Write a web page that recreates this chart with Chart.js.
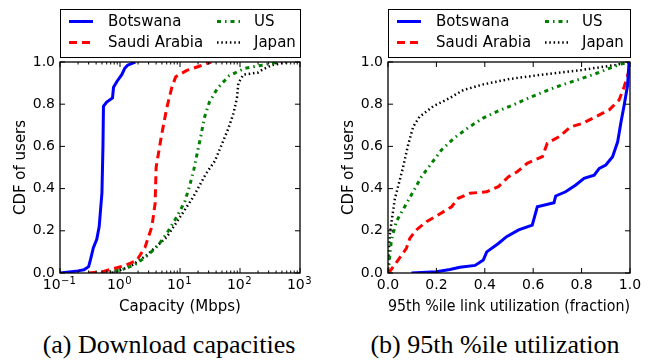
<!DOCTYPE html>
<html>
<head>
<meta charset="utf-8">
<script src="https://cdn.jsdelivr.net/npm/chart.js@4.4.0/dist/chart.umd.min.js"></script>
<style>
  body { margin: 0; background: #fff; }
  #wrap { position: relative; width: 655px; height: 360px; overflow: hidden; }
  canvas { position: absolute; top: 0; }
  .cap { position: absolute; top: 330px; font-family: "Liberation Serif", serif; font-size: 26px; color: #000; white-space: nowrap; transform: translateX(-50%); }
</style>
</head>
<body>
<div id="wrap">
  <canvas id="capChart" width="327" height="320" style="left:0"></canvas>
  <canvas id="utilChart" width="328" height="320" style="left:327px"></canvas>
  <div class="cap" style="left:169px">(a) Download capacities</div>
  <div class="cap" style="left:495px">(b) 95th %ile utilization</div>
</div>
<script>
// series names and styles
const countries = ['Botswana', 'Saudi Arabia', 'US', 'Japan'];
const colors = ['#0000ff', '#ff0000', '#008000', '#000000'];

// (a) download capacity (Mbps) vs CDF
const botswanaCap = [0.1, 0.2, 0.25, 0.3, 0.32, 0.36, 0.41, 0.45, 0.5, 0.52, 0.53, 0.6, 0.75, 0.78, 0.9, 1.07, 1.2, 1.34, 1.8];
const botswanaCapCdf = [0, 0.01, 0.015, 0.03, 0.06, 0.12, 0.16, 0.22, 0.38, 0.6, 0.79, 0.81, 0.83, 0.88, 0.91, 0.94, 0.97, 0.985, 1.0];
const saudiCap = [0.3, 0.5, 0.76, 1.2, 1.9, 2.6, 3.4, 3.85, 4.0, 4.9, 6.0, 7.3, 8.5, 13, 21, 33];
const saudiCapCdf = [0, 0.005, 0.02, 0.035, 0.06, 0.12, 0.22, 0.33, 0.5, 0.65, 0.78, 0.88, 0.93, 0.96, 0.98, 1.0];
const usCap = [0.49, 1.07, 1.78, 2.8, 4.3, 6.4, 9, 12.1, 14.7, 17, 19.6, 22.5, 25.4, 30.9, 42, 66, 120, 235, 430];
const usCapCdf = [0, 0.015, 0.04, 0.08, 0.13, 0.2, 0.27, 0.34, 0.42, 0.49, 0.575, 0.655, 0.735, 0.81, 0.875, 0.935, 0.97, 0.985, 1.0];
const japanCap = [0.73, 1.47, 2.8, 6, 10, 16.6, 27, 38, 49, 64, 78, 89, 94, 114, 200, 240, 340, 630];
const japanCapCdf = [0, 0.03, 0.085, 0.17, 0.265, 0.36, 0.47, 0.53, 0.605, 0.685, 0.757, 0.83, 0.9, 0.94, 0.95, 0.965, 0.985, 1.0];

// (b) 95th percentile link utilization vs CDF
const botswanaUtil = [0.097, 0.2, 0.256, 0.297, 0.36, 0.394, 0.408, 0.456, 0.49, 0.54, 0.596, 0.617, 0.686, 0.693, 0.734, 0.776, 0.81, 0.852, 0.873, 0.9, 0.928, 0.949, 0.963, 0.976, 0.99, 0.996];
const botswanaUtilCdf = [0, 0.006, 0.017, 0.027, 0.036, 0.062, 0.1, 0.14, 0.172, 0.204, 0.227, 0.314, 0.333, 0.365, 0.385, 0.417, 0.449, 0.464, 0.496, 0.512, 0.551, 0.622, 0.717, 0.796, 0.89, 1.0];
const saudiUtil = [0, 0.007, 0.041, 0.076, 0.09, 0.117, 0.159, 0.207, 0.263, 0.29, 0.339, 0.408, 0.456, 0.498, 0.534, 0.575, 0.638, 0.658, 0.707, 0.755, 0.804, 0.859, 0.914, 0.955, 0.976, 0.997, 1.0];
const saudiUtilCdf = [0, 0.006, 0.06, 0.117, 0.164, 0.204, 0.243, 0.275, 0.314, 0.354, 0.378, 0.385, 0.409, 0.456, 0.48, 0.52, 0.551, 0.615, 0.646, 0.693, 0.709, 0.741, 0.773, 0.82, 0.883, 0.962, 1.0];
const usUtil = [0, 0.002, 0.007, 0.014, 0.034, 0.069, 0.104, 0.138, 0.18, 0.221, 0.274, 0.332, 0.391, 0.456, 0.516, 0.582, 0.651, 0.718, 0.783, 0.852, 0.914, 0.963, 1.0];
const usUtilCdf = [0, 0.015, 0.08, 0.156, 0.243, 0.314, 0.385, 0.456, 0.52, 0.583, 0.64, 0.689, 0.733, 0.768, 0.796, 0.83, 0.862, 0.891, 0.915, 0.942, 0.97, 0.99, 1.0];
const japanUtil = [0, 0.002, 0.008, 0.028, 0.062, 0.083, 0.104, 0.13, 0.187, 0.256, 0.311, 0.394, 0.505, 0.624, 0.8, 0.94, 1.0];
const japanUtilCdf = [0, 0.08, 0.19, 0.35, 0.5, 0.607, 0.693, 0.74, 0.79, 0.83, 0.867, 0.894, 0.92, 0.938, 0.962, 0.986, 1.0];

// tick labels
const capTickValues = [0.1, 1, 10, 100, 1000];
const capTickExponents = ['−1', '0', '1', '2', '3'];
const cdfTicks = [0, 0.2, 0.4, 0.6, 0.8, 1.0];

Chart.defaults.font.family = 'DejaVu Sans';
Chart.defaults.color = '#000';

const dashes = [[], [8, 5], [4, 4, 1.5, 4], [1.5, 2.8]];
const widths = [3, 3, 3, 2.5];

function toPoints(xs, ys) {
  return xs.map((x, i) => ({ x: x, y: ys[i] }));
}

function makeDatasets(series) {
  return series.map((s, i) => ({
    label: countries[i],
    data: toPoints(s[0], s[1]),
    borderColor: colors[i],
    borderWidth: widths[i],
    borderDash: dashes[i],
    borderCapStyle: 'butt',
    pointRadius: 0,
    tension: 0,
    fill: false
  }));
}

// frame, inward ticks (matplotlib style), 10^n labels and the two-column legend
const framePlugin = {
  id: 'frame',
  afterDraw(chart) {
    const ctx = chart.ctx;
    const a = chart.chartArea;
    const xs = chart.scales.x, ys = chart.scales.y;
    ctx.save();
    ctx.strokeStyle = '#000';
    ctx.lineWidth = 1;
    ctx.beginPath();
    const tick = (px, len, horiz) => {
      if (horiz) {
        ctx.moveTo(px, a.bottom); ctx.lineTo(px, a.bottom - len);
        ctx.moveTo(px, a.top); ctx.lineTo(px, a.top + len);
      } else {
        ctx.moveTo(a.left, px); ctx.lineTo(a.left + len, px);
        ctx.moveTo(a.right, px); ctx.lineTo(a.right - len, px);
      }
    };
    xs.ticks.forEach(t => tick(xs.getPixelForValue(t.value), 5, true));
    ys.ticks.forEach(t => tick(ys.getPixelForValue(t.value), 5, false));
    if (xs.type === 'logarithmic') {
      for (let d = -1; d < 3; d++) {
        for (let m = 2; m < 10; m++) {
          tick(xs.getPixelForValue(m * Math.pow(10, d)), 2.5, true);
        }
      }
    }
    ctx.stroke();
    ctx.lineWidth = 1.3;
    ctx.strokeRect(a.left, a.top, a.right - a.left, a.bottom - a.top);

    // power-of-ten labels with real superscripts
    ctx.fillStyle = '#000';
    if (xs.type === 'logarithmic') {
      ctx.textBaseline = 'alphabetic';
      ctx.textAlign = 'left';
      capTickValues.forEach((v, i) => {
        const px = xs.getPixelForValue(v);
        ctx.font = '14px "DejaVu Sans"';
        const wb = ctx.measureText('10').width;
        ctx.font = '10px "DejaVu Sans"';
        const we = ctx.measureText(capTickExponents[i]).width;
        const x0 = px - (wb + we) / 2 - 1;
        ctx.font = '14px "DejaVu Sans"';
        ctx.fillText('10', x0, a.bottom + 16);
        ctx.font = '10px "DejaVu Sans"';
        ctx.fillText(capTickExponents[i], x0 + wb + 0.5, a.bottom + 10.5);
      });
    }

    // legend
    const top = 9, bottom = 57;
    ctx.lineWidth = 1;
    ctx.strokeRect(a.left + 0.5, top + 0.5, a.right - a.left, bottom - top);
    ctx.font = '15px "DejaVu Sans"';
    ctx.textBaseline = 'middle';
    ctx.textAlign = 'left';
    chart.data.datasets.forEach((ds, i) => {
      const col = Math.floor(i / 2), row = i % 2;
      const y = row === 0 ? 21.5 : 42.5;
      const x0 = a.left + (col === 0 ? 9 : 157);
      ctx.save();
      ctx.strokeStyle = ds.borderColor;
      ctx.lineWidth = ds.borderWidth;
      ctx.setLineDash(ds.borderDash);
      ctx.beginPath();
      ctx.moveTo(x0, y); ctx.lineTo(x0 + 24, y);
      ctx.stroke();
      ctx.restore();
      ctx.fillText(ds.label, x0 + (col === 0 ? 39 : 37), y + 1);
    });
    ctx.restore();
  }
};

function yScale() {
  return {
    min: 0, max: 1,
    afterFit: s => { s.width = 60; },
    afterBuildTicks: s => { s.ticks = cdfTicks.map(v => ({ value: v })); },
    ticks: { padding: 5, font: { size: 14 }, callback: v => v.toFixed(1) },
    grid: { display: false, drawTicks: false },
    border: { display: false },
    title: { display: true, text: 'CDF of users', font: { size: 15 }, padding: { top: 12, bottom: 0 } }
  };
}

const common = {
  responsive: false,
  animation: false,
  plugins: { legend: { display: false }, tooltip: { enabled: false } }
};

new Chart(document.getElementById('capChart'), {
  type: 'line',
  data: {
    datasets: makeDatasets([
      [botswanaCap, botswanaCapCdf], [saudiCap, saudiCapCdf],
      [usCap, usCapCdf], [japanCap, japanCapCdf]
    ])
  },
  options: Object.assign({}, common, {
    layout: { padding: { left: 0, right: 27, top: 62, bottom: 0 } },
    scales: {
      x: {
        type: 'logarithmic', min: 0.1, max: 1000,
        afterFit: s => { s.height = 47; },
        afterBuildTicks: s => { s.ticks = capTickValues.map(v => ({ value: v })); },
        ticks: { display: false },
        grid: { display: false, drawTicks: false },
        border: { display: false },
        title: { display: true, text: 'Capacity (Mbps)', font: { size: 15 }, padding: { top: 0, bottom: 4 } }
      },
      y: yScale()
    }
  }),
  plugins: [framePlugin]
});

new Chart(document.getElementById('utilChart'), {
  type: 'line',
  data: {
    datasets: makeDatasets([
      [botswanaUtil, botswanaUtilCdf], [saudiUtil, saudiUtilCdf],
      [usUtil, usUtilCdf], [japanUtil, japanUtilCdf]
    ])
  },
  options: Object.assign({}, common, {
    layout: { padding: { left: 1, right: 25, top: 62, bottom: 0 } },
    scales: {
      x: {
        type: 'linear', min: 0, max: 1,
        afterFit: s => { s.height = 47; },
        afterBuildTicks: s => { s.ticks = cdfTicks.map(v => ({ value: v })); },
        ticks: { padding: 4, font: { size: 14 }, maxRotation: 0, autoSkip: false, callback: v => v.toFixed(1) },
        grid: { display: false, drawTicks: false },
        border: { display: false },
        title: { display: true, text: '95th %ile link utilization (fraction)', font: { size: 15 }, padding: { top: 0, bottom: 4 } }
      },
      y: yScale()
    }
  }),
  plugins: [framePlugin]
});
</script>
</body>
</html>
